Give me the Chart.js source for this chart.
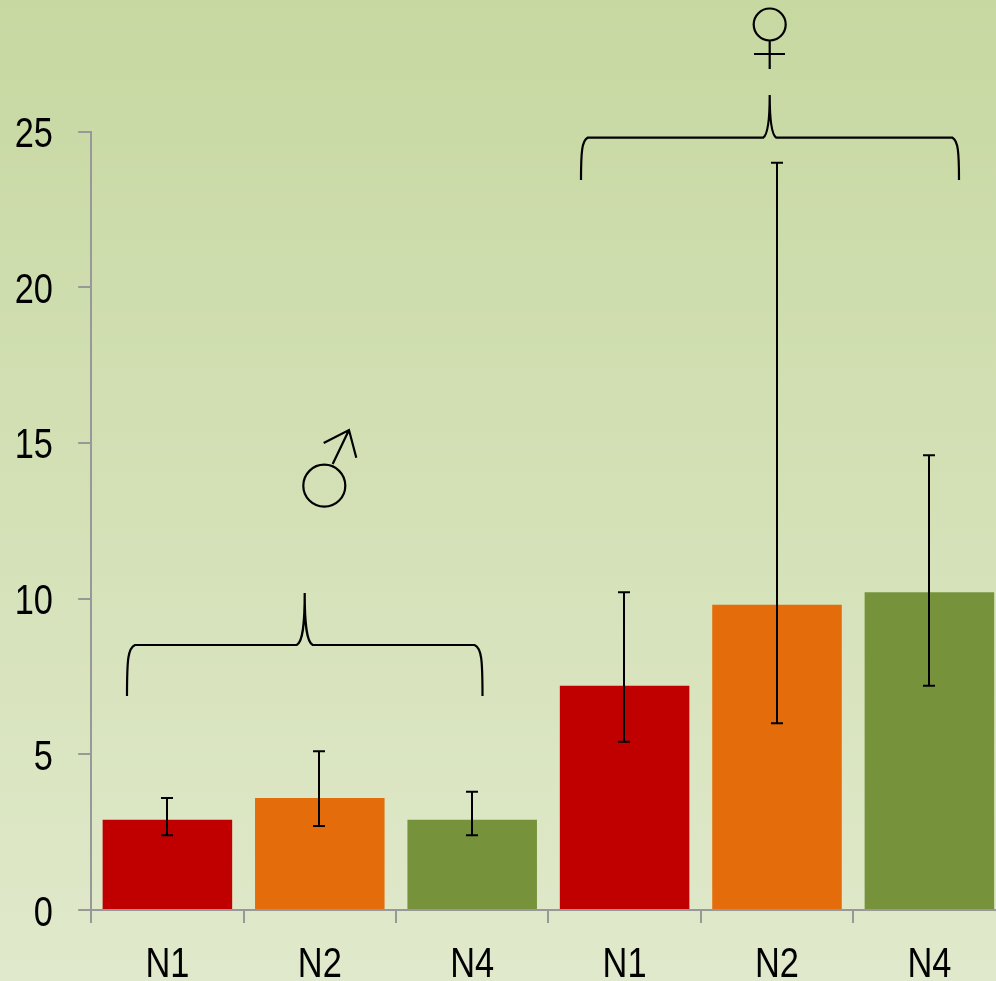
<!DOCTYPE html>
<html>
<head>
<meta charset="utf-8">
<script src="https://cdn.jsdelivr.net/npm/chart.js@4"></script>
<style>
  html, body { margin: 0; padding: 0; width: 996px; height: 981px; overflow: hidden; }
  body { background: linear-gradient(180deg, #c7d8a1 0%, #e0e9cb 100%); }
  canvas { position: absolute; left: 0; top: 0; }
</style>
</head>
<body>
<canvas id="chart" width="1010" height="981"></canvas>
<script>
const categories = ['N1', 'N2', 'N4', 'N1', 'N2', 'N4'];
const values = [2.9, 3.6, 2.9, 7.2, 9.8, 10.2];
const errLow = [2.4, 2.7, 2.4, 5.4, 6.0, 7.2];
const errHigh = [3.6, 5.1, 3.8, 10.2, 24.0, 14.6];
const yTicks = [0, 5, 10, 15, 20, 25];

const barColors = ['#c00000', '#e46c0a', '#76933c', '#c00000', '#e46c0a', '#76933c'];
const axisColor = '#989898';

// curly bracket opening downward, tip on top
function drawBrace(ctx, left, right, mid, tipY, lineY, footY, r) {
  ctx.beginPath();
  ctx.moveTo(left, footY);
  ctx.bezierCurveTo(left, lineY + 14, left + 1, lineY + 3, left + r, lineY);
  ctx.lineTo(mid - r, lineY);
  ctx.bezierCurveTo(mid - 2, lineY - 3, mid, lineY - 20, mid, tipY);
  ctx.bezierCurveTo(mid, lineY - 20, mid + 2, lineY - 3, mid + r, lineY);
  ctx.lineTo(right - r, lineY);
  ctx.bezierCurveTo(right - 1, lineY + 3, right, lineY + 14, right, footY);
  ctx.stroke();
}

const errorBars = {
  id: 'errorBars',
  afterDatasetsDraw(chart) {
    const { ctx, scales: { x, y } } = chart;
    ctx.save();
    ctx.strokeStyle = '#000';
    ctx.lineWidth = 2;
    categories.forEach((c, i) => {
      const px = Math.floor(x.getPixelForValue(i));
      const top = y.getPixelForValue(errHigh[i]);
      const bot = y.getPixelForValue(errLow[i]);
      ctx.beginPath();
      ctx.moveTo(px, top);
      ctx.lineTo(px, bot);
      ctx.moveTo(px - 6, top);
      ctx.lineTo(px + 6, top);
      ctx.moveTo(px - 6, bot);
      ctx.lineTo(px + 6, bot);
      ctx.stroke();
    });
    ctx.restore();
  }
};

// tick labels are condensed, no narrow font available so squeeze the real text
const narrowLabels = {
  id: 'narrowLabels',
  afterDraw(chart) {
    const { ctx, scales: { x, y } } = chart;
    const squeeze = 0.8;
    ctx.save();
    ctx.fillStyle = '#000';
    ctx.font = '43px "Liberation Sans", sans-serif';
    ctx.textBaseline = 'alphabetic';

    ctx.textAlign = 'right';
    yTicks.forEach((v) => {
      ctx.save();
      ctx.translate(53, y.getPixelForValue(v) + 15.5);
      ctx.scale(squeeze, 1);
      ctx.fillText(String(v), 0, 0);
      ctx.restore();
    });

    ctx.textAlign = 'center';
    categories.forEach((c, i) => {
      ctx.save();
      ctx.translate(x.getPixelForValue(i), 977);
      ctx.scale(squeeze, 1);
      ctx.fillText(c, 0, 0);
      ctx.restore();
    });
    ctx.restore();
  }
};

const genderMarks = {
  id: 'genderMarks',
  afterDraw(chart) {
    const { ctx } = chart;
    ctx.save();
    ctx.strokeStyle = '#000';
    ctx.lineWidth = 2.2;

    drawBrace(ctx, 127, 482.5, 304.7, 593, 645, 696, 8);
    drawBrace(ctx, 581, 959, 769.7, 95, 137.7, 180, 6.5);

    // male sign
    ctx.beginPath();
    ctx.arc(324.3, 485.7, 21, 0, Math.PI * 2);
    ctx.moveTo(332.7, 464);
    ctx.lineTo(349, 430);
    ctx.moveTo(323.7, 443);
    ctx.lineTo(349, 430);
    ctx.lineTo(356.3, 457.7);
    ctx.stroke();

    // female sign
    ctx.beginPath();
    ctx.arc(769.7, 24.5, 16, 0, Math.PI * 2);
    ctx.moveTo(769.7, 40.5);
    ctx.lineTo(769.7, 69);
    ctx.moveTo(754, 54);
    ctx.lineTo(785, 54);
    ctx.stroke();
    ctx.restore();
  }
};

new Chart(document.getElementById('chart'), {
  type: 'bar',
  data: {
    labels: categories,
    datasets: [{
      data: values,
      backgroundColor: barColors,
      barPercentage: 0.85,
      categoryPercentage: 1
    }]
  },
  plugins: [errorBars, narrowLabels, genderMarks],
  options: {
    responsive: false,
    animation: false,
    layout: { padding: { top: 131.5, right: 4.4, left: 0, bottom: 0 } },
    plugins: { legend: { display: false }, tooltip: { enabled: false } },
    scales: {
      x: {
        afterFit(scale) { scale.height = 71; },
        grid: { drawOnChartArea: false, color: axisColor, lineWidth: 2, tickLength: 13 },
        border: { color: axisColor, width: 2 },
        ticks: { display: false }
      },
      y: {
        min: 0,
        max: 25,
        afterFit(scale) { scale.width = 91.2; },
        afterBuildTicks(scale) { scale.ticks = yTicks.map(v => ({ value: v })); },
        grid: { drawOnChartArea: false, color: axisColor, lineWidth: 2, tickLength: 13 },
        border: { color: axisColor, width: 2 },
        ticks: { display: false }
      }
    }
  }
});
</script>
</body>
</html>
